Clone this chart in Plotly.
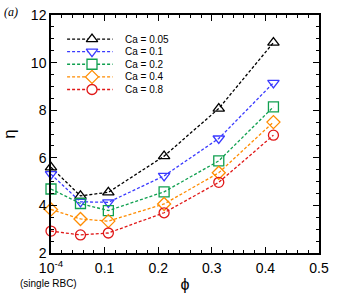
import plotly.graph_objects as go

phi = [0.0, 0.055, 0.107, 0.211, 0.313, 0.415]
ca_labels = ["Ca = 0.05", "Ca = 0.1", "Ca = 0.2", "Ca = 0.4", "Ca = 0.8"]
eta_005 = [5.6, 4.4, 4.55, 6.07, 8.07, 10.84]
eta_01 = [5.31, 4.15, 4.13, 5.24, 6.81, 9.15]
eta_02 = [4.69, 4.08, 3.78, 4.57, 5.87, 8.14]
eta_04 = [3.83, 3.43, 3.34, 4.06, 5.37, 7.5]
eta_08 = [2.92, 2.76, 2.84, 3.69, 4.97, 6.95]
series = [eta_005, eta_01, eta_02, eta_04, eta_08]
colors = ["#000000", "#3a3aff", "#10a050", "#ff8c00", "#e01818"]
symbols = ["triangle-up", "triangle-down", "square", "diamond", "circle"]
x_tickvals = [0.0, 0.1, 0.2, 0.3, 0.4, 0.5]
x_ticktext = ["10<sup>-4</sup>", "0.1", "0.2", "0.3", "0.4", "0.5"]
y_tickvals = [2, 4, 6, 8, 10, 12]

FONT = "Liberation Sans, Arial, sans-serif"
DASH = "3px,2px"
MSIZE = 10

fig = go.Figure()
for name, ys, c, s in zip(ca_labels, series, colors, symbols):
    fig.add_trace(go.Scatter(
        x=phi, y=ys, mode="lines+markers", name=name, cliponaxis=False,
        line=dict(color=c, width=1.3, dash=DASH),
        marker=dict(symbol=s + "-open", size=MSIZE, color=c, line=dict(color=c, width=1.3)),
        showlegend=False,
    ))

# compact legend on an overlay axis (0..1 coordinates of the plot area)
leg_x0, leg_x1, leg_xm = 0.06, 0.23, 0.153
leg_y_top, leg_dy = 0.899, 0.053
for i, (name, c, s) in enumerate(zip(ca_labels, colors, symbols)):
    yy = leg_y_top - i * leg_dy
    fig.add_trace(go.Scatter(
        x=[leg_x0, leg_x1], y=[yy, yy], mode="lines", xaxis="x2", yaxis="y2",
        line=dict(color=c, width=1.3, dash=DASH), showlegend=False, hoverinfo="skip",
    ))
    fig.add_trace(go.Scatter(
        x=[leg_xm], y=[yy], mode="markers", xaxis="x2", yaxis="y2",
        marker=dict(symbol=s, size=MSIZE, color="white", line=dict(color=c, width=1.3)),
        showlegend=False, hoverinfo="skip",
    ))
    fig.add_annotation(x=0.267, y=yy, xref="x2", yref="y2", text=name,
                       showarrow=False, xanchor="left", yanchor="middle",
                       font=dict(size=10, color="black", family=FONT))

axis_common = dict(
    showline=True, linecolor="black", linewidth=1.5, mirror="allticks",
    ticks="inside", ticklen=6, tickwidth=1.2, tickcolor="black",
    showgrid=False, zeroline=False,
    tickfont=dict(size=14, color="black", family=FONT),
)
fig.update_layout(
    width=337, height=300,
    margin=dict(l=51, r=18, t=15, b=47),
    paper_bgcolor="white", plot_bgcolor="white",
    font=dict(family=FONT, color="black"),
    xaxis=dict(range=[0, 0.5], tickmode="array", tickvals=x_tickvals, ticktext=x_ticktext,
               minor=dict(dtick=0.02, ticks="inside", ticklen=3, tickcolor="black", tickwidth=1),
               title=dict(text="ϕ", font=dict(size=16, family=FONT), standoff=4),
               ticklabelstandoff=1,
               automargin=False, **axis_common),
    yaxis=dict(range=[2, 12], tickmode="array", tickvals=y_tickvals,
               minor=dict(dtick=0.5, ticks="inside", ticklen=3, tickcolor="black", tickwidth=1),
               title=dict(text="η", font=dict(size=17, family=FONT), standoff=22),
               automargin=False, **axis_common),
    xaxis2=dict(range=[0, 1], overlaying="x", visible=False, fixedrange=True),
    yaxis2=dict(range=[0, 1], overlaying="y", visible=False, fixedrange=True),
)
fig.add_annotation(x=-0.01, y=-0.097, xref="paper", yref="paper", text="(single RBC)", showarrow=False,
                   xanchor="center", yanchor="top", font=dict(size=10, color="black", family=FONT))
fig.add_annotation(x=-0.183, y=1.013, xref="paper", yref="paper", text="<i>(a)</i>", showarrow=False,
                   xanchor="left", yanchor="middle", font=dict(size=12, color="black", family="Liberation Serif, serif"))
fig.write_html("out.html", config={"displayModeBar": False},
               post_script="document.body.style.margin='0';")
